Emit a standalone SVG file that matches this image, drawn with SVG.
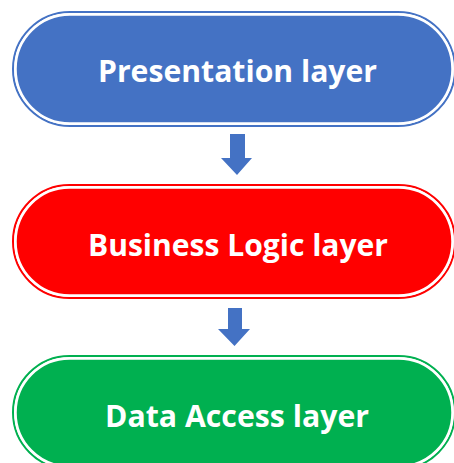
<svg xmlns="http://www.w3.org/2000/svg" width="454" height="463" viewBox="0 0 454 463">
<style>
.outer{fill:none;stroke-width:2}
.inner{stroke:#fff;stroke-width:2.5}
.lbl{font-family:"Open Sans","Liberation Sans",sans-serif;font-weight:bold;font-size:31px;fill:#fff;text-anchor:middle}
.arr{fill:#4472C4}
</style>
<rect width="454" height="463" fill="#fff"/>
<g id="presentation">
<rect class="outer" x="13" y="12" width="442" height="114" rx="57" stroke="#4472C4"/>
<rect class="inner" x="15.5" y="14.5" width="437" height="109" rx="54.5" fill="#4472C4"/>
<text class="lbl" x="237.5" y="82" textLength="279" lengthAdjust="spacingAndGlyphs">Presentation layer</text>
</g>
<g id="business">
<rect class="outer" x="13" y="185" width="442" height="113" rx="56.5" stroke="#FF0000"/>
<rect class="inner" x="15.5" y="187.5" width="437" height="108" rx="54" fill="#FF0000"/>
<text class="lbl" x="238" y="256" textLength="300" lengthAdjust="spacingAndGlyphs">Business Logic layer</text>
</g>
<g id="data">
<rect class="outer" x="13" y="356" width="442" height="113" rx="56.5" stroke="#00B050"/>
<rect class="inner" x="15.5" y="358.5" width="437" height="108" rx="54" fill="#00B050"/>
<text class="lbl" x="237" y="427" textLength="264" lengthAdjust="spacingAndGlyphs">Data Access layer</text>
</g>
<g id="connectors">
<polygon class="arr" points="230,134 245,134 245,158 252,158 237,175 221,158 230,158"/>
<polygon class="arr" points="228,308 242,308 242,329 250,329 234.5,346 218,329 228,329"/>
</g>
</svg>
